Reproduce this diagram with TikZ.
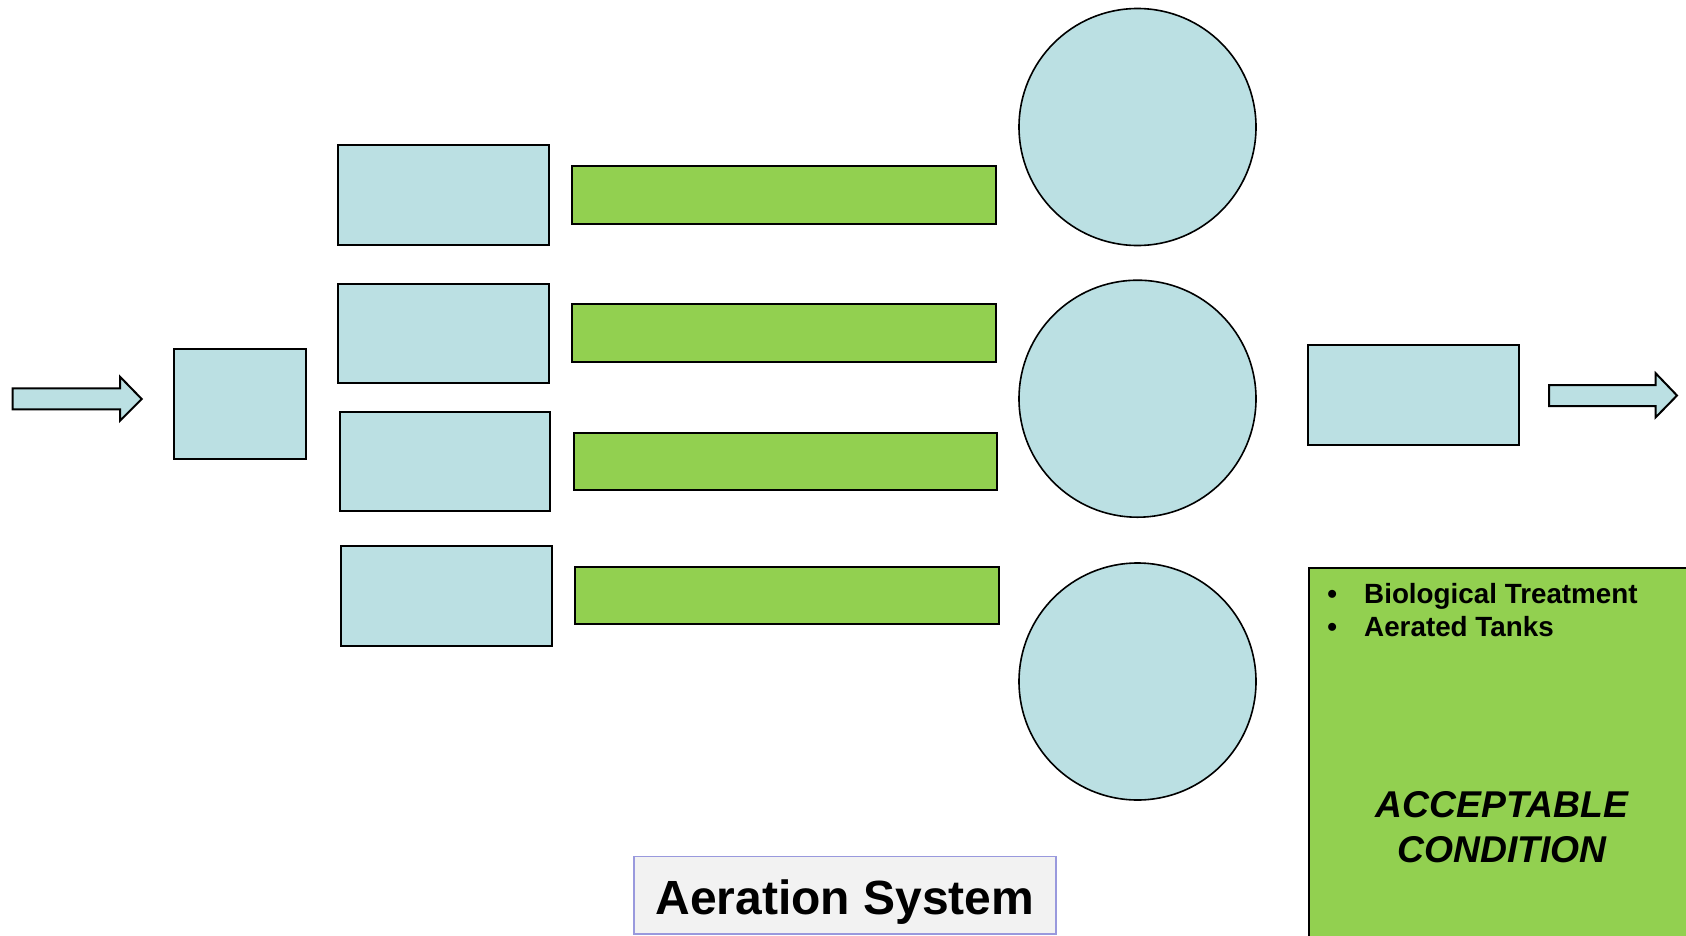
\documentclass[tikz,border=0pt]{standalone}
\usepackage{fontspec}
\setmainfont{Liberation Sans}
\usetikzlibrary{positioning}
\definecolor{paleblue}{HTML}{BBE0E3}
\definecolor{leafgreen}{HTML}{92D050}
\definecolor{labelgray}{HTML}{F2F2F2}
\definecolor{labelrim}{HTML}{9999DD}
\tikzset{
	tank/.style={draw=black, fill=paleblue, line width=2pt, inner sep=0pt},
	aerator/.style={draw=black, fill=leafgreen, line width=2pt, inner sep=0pt, minimum width=423.5pt, minimum height=57.5pt},
	clarifier/.style={circle, draw=black, fill=paleblue, line width=1.6pt, inner sep=0pt, minimum size=237pt},
	flowarrow/.style={draw=black, fill=paleblue, line width=2pt, line join=miter},
	bulletline/.style={anchor=base west, font=\bfseries\fontsize{27.8}{33}\selectfont, inner sep=0pt}
}

\begin{document}
\begin{tikzpicture}[x=1pt, y=-1pt, every node/.style={font=\bfseries}]

	\clip (0,0) rectangle (1686,935);

	% inlet
	\draw[flowarrow] (12.7,388.3) -- (120,388.3) -- (120,376.7) -- (141.7,399) -- (120,420.7) -- (120,409.3) -- (12.7,409.3) -- cycle;
	\node[tank, minimum width=132pt, minimum height=110pt] (screen) at (240,404) {};

	% primary tanks
	\node[tank, minimum width=211pt, minimum height=99.7pt] (prim1) at (443.8,195.2) {};
	\node[tank, minimum width=211pt, minimum height=99pt] (prim2) at (443.8,333.2) {};
	\node[tank, minimum width=210.6pt, minimum height=99pt] (prim3) at (445,461.5) {};
	\node[tank, minimum width=210.7pt, minimum height=100pt] (prim4) at (446.4,596) {};

	% aeration basins
	\node[aerator] (basin1) at (784.2,195) {};
	\node[aerator] (basin2) at (784.2,333) {};
	\node[aerator] (basin3) at (785.7,461.3) {};
	\node[aerator] (basin4) at (787,595.6) {};

	% clarifiers
	\node[clarifier] (clar1) at (1137.5,127) {};
	\node[clarifier] (clar2) at (1137.5,398.7) {};
	\node[clarifier] (clar3) at (1137.5,681.5) {};

	% outlet
	\node[tank, minimum width=211.3pt, minimum height=100pt] (disinfect) at (1413.4,395) {};
	\draw[flowarrow] (1549,385) -- (1655.7,385) -- (1655.7,373.3) -- (1677,395.5) -- (1655.7,417.3) -- (1655.7,406) -- (1549,406) -- cycle;

	% notes
	\node[draw=black, fill=leafgreen, line width=2pt, anchor=north west, minimum width=390pt, minimum height=400pt] (note) at (1307.7,566.7) {};
	\node[bulletline] (bio) at (1364,603) {\llap{\textbullet\hspace{27pt}}Biological Treatment};
	\node[bulletline] (aer) at (1364,636.5) {\llap{\textbullet\hspace{27pt}}Aerated Tanks};
	\node[align=center, font=\bfseries\itshape\fontsize{37.3}{45}\selectfont, inner sep=0pt] (verdict) at (1502,827) {ACCEPTABLE\\CONDITION};

	\node[draw=labelrim, fill=labelgray, line width=1.5pt, inner sep=0pt, anchor=base, minimum width=422pt, text height=57.3pt, text depth=20pt, font=\bfseries\fontsize{48}{55}\selectfont] (caption) at (845,914) {Aeration System};

\end{tikzpicture}
\end{document}
